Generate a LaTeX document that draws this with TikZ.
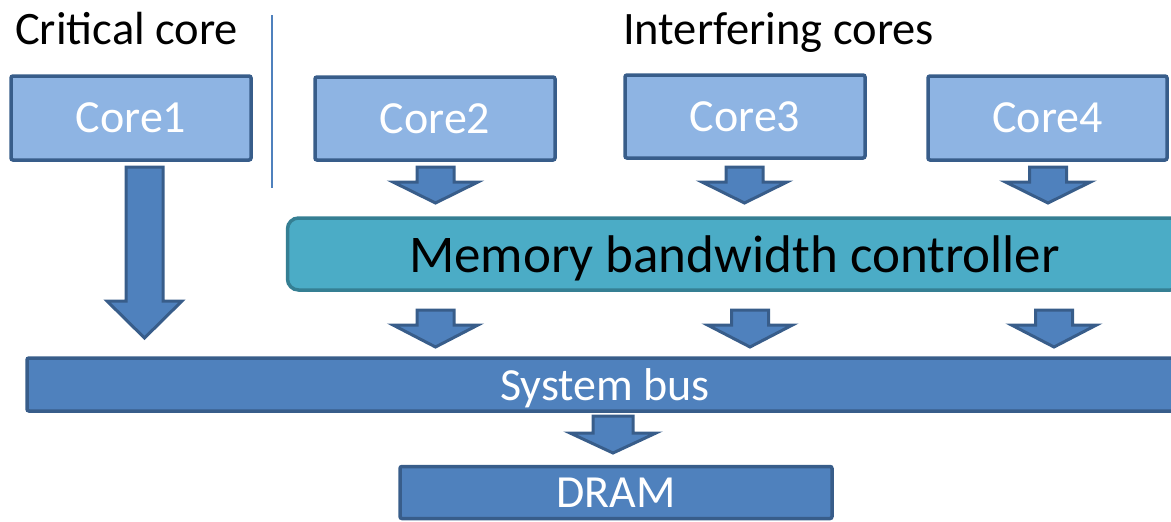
\documentclass[tikz,border=0pt]{standalone}
\usepackage{fontspec}
\setmainfont{Carlito}
\definecolor{coreFill}{HTML}{8EB4E3}
\definecolor{darkLine}{HTML}{385D8A}
\definecolor{busFill}{HTML}{4F81BD}
\definecolor{ctrlFill}{HTML}{4BACC6}
\definecolor{ctrlLine}{HTML}{357F93}
\tikzset{
  corebox/.style={draw=darkLine, fill=coreFill, line width=3.5pt, rounded corners=2pt,
    text=white, font=\fontsize{46}{50}\selectfont, inner sep=0pt},
  busbox/.style={draw=darkLine, fill=busFill, line width=3.5pt, rounded corners=2pt,
    text=white, font=\fontsize{46}{50}\selectfont, inner sep=0pt, text depth=0pt},
  ctrlbox/.style={draw=ctrlLine, fill=ctrlFill, line width=3.5pt, rounded corners=11pt,
    text=black, font=\fontsize{53}{57}\selectfont, inner sep=0pt, text depth=0pt},
  heading/.style={text=black, font=\fontsize{46.5}{52}\selectfont, inner sep=0pt, anchor=base west},
  blk/.style={draw=darkLine, fill=busFill, line width=3pt, line join=miter},
}
% block arrow: #1 x centre, #2 top, #3 start of head, #4 tip, #5 shaft half width, #6 head half width
\newcommand\blockarrow[6]{%
  \draw[blk] ({#1-#5},#2) -- ({#1+#5},#2) -- ({#1+#5},#3) -- ({#1+#6},#3)
    -- (#1,#4) -- ({#1-#6},#3) -- ({#1-#5},#3) -- cycle;}
\begin{document}
\begin{tikzpicture}[x=1pt,y=-1pt]
\useasboundingbox (0,0) rectangle (1171,522);
\clip (0,0) rectangle (1171,522);

% headings and separator
\node[heading] (crit) at (15,45) {Critical core};
\node[heading] (intf) at (623,45) {Interfering cores};
\draw[busFill, line width=2pt] (272,15) coordinate (sepTop) -- (272,188) coordinate (sepBot);

% cores
\node[corebox, minimum width=240pt, minimum height=84pt] (core1) at (131,118) {Core1};
\node[corebox, minimum width=240pt, minimum height=83pt] (core2) at (435,118.5) {Core2};
\node[corebox, minimum width=240pt, minimum height=83pt] (core3) at (745,116.5) {Core3};
\node[corebox, minimum width=239pt, minimum height=84pt] (core4) at (1047.5,118) {Core4};

% bandwidth controller, system bus, DRAM
\node[ctrlbox, minimum width=894pt, minimum height=72pt] (ctrl) at (734.5,254) {Memory bandwidth controller};
\node[busbox, minimum width=1156pt, minimum height=53pt] (bus) at (605,384.5) {System bus};
\node[busbox, minimum width=432pt, minimum height=52pt] (dram) at (616,492.5) {DRAM};

% core -> controller
\blockarrow{435.5}{167}{182}{203}{18.5}{42.5}
\blockarrow{744.5}{167}{182}{203}{18.5}{42.5}
\blockarrow{1048}{167}{182}{203}{18.5}{42.5}

% controller -> bus
\blockarrow{435.5}{310}{325}{347}{18.5}{42.5}
\blockarrow{750}{310}{325}{347}{18.5}{42.5}
\blockarrow{1054}{310}{325}{347}{18.5}{42.5}

% critical core straight to the bus
\blockarrow{144.5}{167}{301}{338}{18.5}{37.5}

% bus -> DRAM
\blockarrow{613}{416}{433}{453}{20}{43}
\end{tikzpicture}
\end{document}
